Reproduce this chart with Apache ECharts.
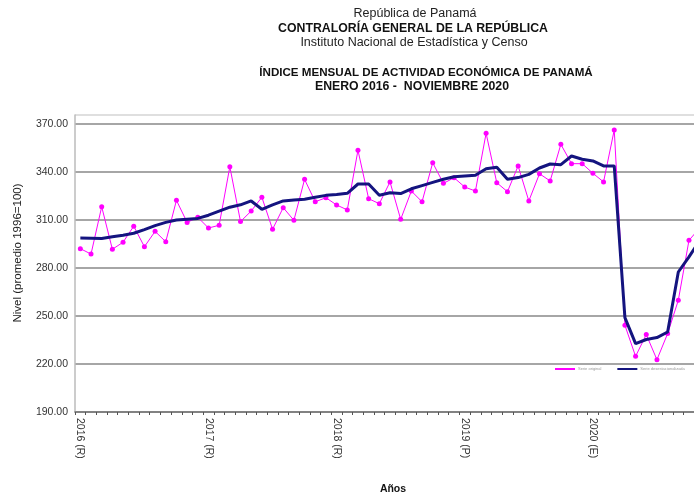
<!DOCTYPE html>
<html>
<head>
<meta charset="utf-8">
<script src="https://cdn.jsdelivr.net/npm/echarts@6/dist/echarts.min.js"></script>
<style>
	html, body { margin: 0; padding: 0; background: #fff; }
	#chart { width: 694px; height: 493px; }
</style>
</head>
<body>
<div id="chart"></div>
<script>
	// años del eje x (etiqueta en enero de cada año)
	const anios = ['2016 (R)', '2017 (R)', '2018 (R)', '2019 (P)', '2020 (E)']
	const mesesPorAnio = [12, 12, 12, 12, 11]

	// serie original (ene 2016 - nov 2020)
	const serieOriginal = [
		292.1, 288.7, 318.3, 291.7, 296.1, 306.1, 293.3, 302.9, 296.4, 322.3, 308.5, 311.7,
		305.0, 306.7, 343.3, 309.0, 315.6, 324.2, 304.2, 317.7, 309.8, 335.4, 321.4, 323.9,
		319.4, 316.3, 353.6, 323.3, 320.2, 333.8, 310.4, 328.1, 321.4, 345.8, 332.9, 336.4,
		330.6, 328.1, 364.2, 333.3, 327.7, 343.8, 321.9, 338.9, 334.4, 357.3, 345.2, 345.2,
		339.2, 333.8, 366.3, 244.2, 224.8, 238.4, 222.7, 239.0, 259.8, 297.3, 305.0
	]

	// serie desestacionalizada
	const serieDesest = [
		298.7, 298.6, 298.5, 299.5, 300.5, 301.7, 304.0, 306.5, 308.5, 310.0, 310.5, 311.0,
		313.0, 315.5, 318.0, 319.5, 321.9, 316.7, 319.5, 321.9, 322.5, 323.0, 324.2, 325.4,
		326.0, 326.7, 332.5, 332.5, 325.5, 327.0, 326.5, 329.5, 331.5, 333.5, 335.5, 337.0,
		337.5, 338.0, 342.0, 343.0, 335.5, 336.5, 338.5, 342.5, 345.0, 344.6, 350.0, 348.0,
		346.9, 343.8, 343.8, 249.0, 232.7, 235.3, 236.5, 240.0, 277.5, 287.0, 297.0
	]

	const nombres = ['Serie original', 'Serie desestacionalizada']

	// categorías mensuales, la etiqueta del año va en enero
	let categorias = []
	anios.forEach((a, k) => {
		for (let m = 0; m < mesesPorAnio[k]; m++) {
			categorias.push(m === 0 ? a : a + '-' + (m + 1))
		}
	})

	const fuente = 'Liberation Sans, Arial, sans-serif'
	const ymax = 370 + 9 / 1.6

	let myChart = echarts.init(document.getElementById('chart'))

	let option = {
		animation: false,
		backgroundColor: '#fff',
		textStyle: { fontFamily: fuente },
		graphic: [
			{ type: 'text', x: 415, y: 14, style: { text: 'República de Panamá', font: '12.5px ' + fuente, fill: '#222', textAlign: 'center', textVerticalAlign: 'middle' } },
			{ type: 'text', x: 413, y: 29, style: { text: 'CONTRALORÍA GENERAL DE LA REPÚBLICA', font: 'bold 12.3px ' + fuente, fill: '#111', textAlign: 'center', textVerticalAlign: 'middle' } },
			{ type: 'text', x: 414, y: 43, style: { text: 'Instituto Nacional de Estadística y Censo', font: '12.5px ' + fuente, fill: '#222', textAlign: 'center', textVerticalAlign: 'middle' } },
			{ type: 'text', x: 426, y: 73, style: { text: 'ÍNDICE MENSUAL DE ACTIVIDAD ECONÓMICA DE PANAMÁ', font: 'bold 11.6px ' + fuente, fill: '#111', textAlign: 'center', textVerticalAlign: 'middle' } },
			{ type: 'text', x: 412, y: 87, style: { text: 'ENERO 2016 -  NOVIEMBRE 2020', font: 'bold 12.3px ' + fuente, fill: '#111', textAlign: 'center', textVerticalAlign: 'middle' } },
			// título eje y
			{ type: 'text', x: 18, y: 253, rotation: Math.PI / 2, style: { text: 'Nivel (promedio 1996=100)', font: '11.5px ' + fuente, fill: '#222', textAlign: 'center', textVerticalAlign: 'middle' } },
			// título eje x
			{ type: 'text', x: 393, y: 489, style: { text: 'Años', font: 'bold 10.5px ' + fuente, fill: '#111', textAlign: 'center', textVerticalAlign: 'middle' } }
		],
		legend: {
			left: 555,
			top: 367,
			padding: 0,
			itemWidth: 20,
			itemHeight: 2,
			itemGap: 16,
			icon: 'rect',
			textStyle: { fontSize: 4, color: '#999', padding: [0, 0, 0, -2] },
			data: nombres
		},
		grid: {
			left: 75,
			width: 630,
			top: 115,
			bottom: 81,
			outerBoundsMode: 'none',
			containLabel: false
		},
		xAxis: {
			type: 'category',
			data: categorias,
			boundaryGap: true,
			axisLine: { show: true, lineStyle: { color: '#777', width: 1.5 } },
			axisTick: { show: true, interval: 0, length: 3, lineStyle: { color: '#555' } },
			axisLabel: {
				interval: (i) => i % 12 === 0,
				formatter: (v, i) => (i % 12 === 0 ? v : ''),
				rotate: -90,
				fontSize: 10.5,
				color: '#333',
				margin: 6
			},
			splitLine: { show: false }
		},
		yAxis: {
			type: 'value',
			min: 190,
			max: ymax,
			interval: 30,
			axisLine: { show: true, lineStyle: { color: '#bbb', width: 1.5 } },
			axisTick: { show: false },
			axisLabel: {
				fontSize: 10.5,
				color: '#333',
				margin: 7,
				formatter: (v) => (v > 370.5 ? '' : v.toFixed(2))
			},
			splitLine: {
				show: true,
				lineStyle: {
					color: ['#888', '#888', '#888', '#888', '#888', '#888', '#888', '#d4d4d4'],
					width: 1.5
				}
			}
		},
		series: [
			{
				name: nombres[0],
				type: 'line',
				data: serieOriginal,
				symbol: 'circle',
				symbolSize: 5,
				lineStyle: { color: '#ff00ff', width: 1 },
				itemStyle: { color: '#ff00ff' },
				z: 2
			},
			{
				name: nombres[1],
				type: 'line',
				data: serieDesest,
				symbol: 'none',
				lineStyle: { color: '#14147f', width: 3 },
				itemStyle: { color: '#14147f' },
				z: 3
			}
		]
	}

	myChart.setOption(option)
</script>
</body>
</html>
